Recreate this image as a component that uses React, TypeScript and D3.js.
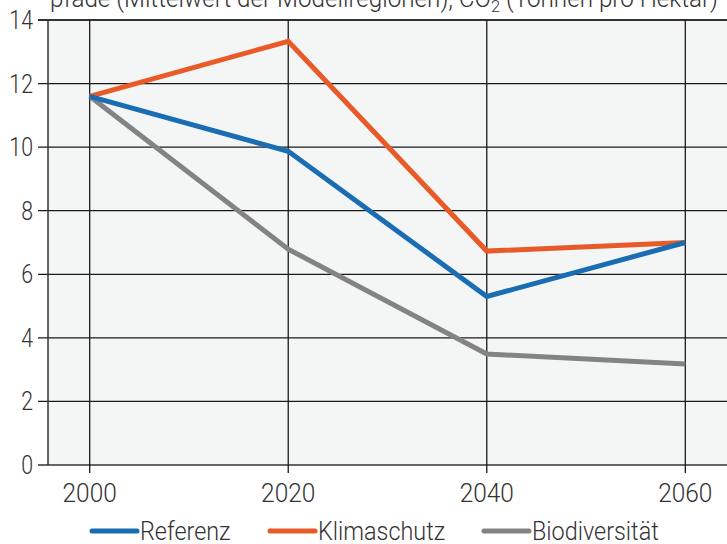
import React, { useEffect, useRef } from 'react';
import * as d3 from 'd3';

const years = [2000, 2020, 2040, 2060];
const referenz = [11.6, 9.87, 5.3, 7.0];
const klimaschutz = [11.6, 13.33, 6.73, 7.0];
const biodiversitaet = [11.6, 6.79, 3.49, 3.18];
const yTicks = [0, 2, 4, 6, 8, 10, 12, 14];
const seriesNames = ['Referenz', 'Klimaschutz', 'Biodiversität'];
const seriesColors = ['#1b6db3', '#e85a28', '#838386'];

const W = 727;
const H = 544;
const FONT = 'Roboto, "Liberation Sans", sans-serif';

function App() {
  const ref = useRef<SVGSVGElement>(null);

  useEffect(() => {
    if (!ref.current) return;
    const svg = d3.select(ref.current);
    svg.selectAll('*').remove();

    const left = 48, top = 20, bottom = 465, right = W;
    const x = d3.scaleLinear().domain([1995.8, 2064.2]).range([left, right]);
    const y = d3.scaleLinear().domain([0, 14]).range([bottom, top]);

    // plot background
    svg.append('rect')
      .attr('x', left).attr('y', top)
      .attr('width', right - left).attr('height', bottom - top)
      .attr('fill', '#f4f6f5');

    // title (cut off at the top, as in the source)
    const title = svg.append('text')
      .attr('x', 50).attr('y', 7)
      .attr('font-family', FONT).attr('font-weight', 300)
      .attr('font-size', 25).attr('fill', '#333')
      .attr('textLength', 668).attr('lengthAdjust', 'spacingAndGlyphs');
    title.append('tspan').text('pfade (Mittelwert der Modellregionen), CO');
    title.append('tspan').attr('font-size', 17).attr('dy', 5).text('2');
    title.append('tspan').attr('dy', -5).text(' (Tonnen pro Hektar)');

    // horizontal grid + ticks
    svg.append('g').selectAll('line')
      .data(yTicks)
      .join('line')
      .attr('x1', 38).attr('x2', right)
      .attr('y1', d => y(d)).attr('y2', d => y(d))
      .attr('stroke', (d) => (d === 14 || d === 0) ? '#333' : '#1a1a1a')
      .attr('stroke-width', (d) => d === 14 ? 2.2 : 1.3);

    svg.append('g').selectAll('text')
      .data(yTicks)
      .join('text')
      .attr('x', 33).attr('y', d => y(d) + 9)
      .attr('text-anchor', 'end')
      .attr('font-family', FONT).attr('font-weight', 300)
      .attr('font-size', 26).attr('fill', '#333')
      .attr('transform', `translate(${33 * 0.18},0) scale(0.82,1)`)
      .text(d => d);

    // vertical grid at years
    svg.append('g').selectAll('line')
      .data(years)
      .join('line')
      .attr('x1', d => x(d)).attr('x2', d => x(d))
      .attr('y1', top).attr('y2', bottom + 8)
      .attr('stroke', '#1a1a1a').attr('stroke-width', 1.3);

    // left border
    svg.append('line')
      .attr('x1', left).attr('x2', left).attr('y1', top).attr('y2', bottom)
      .attr('stroke', '#333').attr('stroke-width', 1.5);

    svg.append('g').selectAll('text')
      .data(years)
      .join('text')
      .attr('x', d => x(d)).attr('y', 502)
      .attr('text-anchor', 'middle')
      .attr('font-family', FONT).attr('font-weight', 300)
      .attr('font-size', 26).attr('fill', '#333')
      .attr('transform', d => `translate(${x(d) * 0.06},0) scale(0.94,1)`)
      .text(d => d);

    // lines
    const allSeries = [referenz, klimaschutz, biodiversitaet];
    const line = d3.line<number>()
      .x((d, i) => x(years[i]))
      .y(d => y(d));

    // gray first, then orange, blue on top
    [2, 1, 0].forEach(i => {
      svg.append('path')
        .datum(allSeries[i])
        .attr('d', line)
        .attr('fill', 'none')
        .attr('stroke', seriesColors[i])
        .attr('stroke-width', 5)
        .attr('stroke-linejoin', 'miter');
    });

    // legend
    const legendX = [90, 268, 482];
    const lg = svg.append('g');
    seriesNames.forEach((name, i) => {
      lg.append('line')
        .attr('x1', legendX[i] + 2).attr('x2', legendX[i] + 47)
        .attr('y1', 531).attr('y2', 531)
        .attr('stroke', seriesColors[i]).attr('stroke-width', 5)
        .attr('stroke-linecap', 'round');
      lg.append('text')
        .attr('x', legendX[i] + 50).attr('y', 540)
        .attr('font-family', FONT).attr('font-weight', 300)
        .attr('font-size', 26).attr('fill', '#333')
        .attr('transform', `translate(${(legendX[i] + 50) * 0.1},0) scale(0.9,1)`)
        .text(name);
    });
  }, []);

  return (
    <svg
      ref={ref}
      width={W}
      height={H}
      style={{ position: 'absolute', left: 0, top: 0, background: '#fff' }}
    />
  );
}

export default App;
